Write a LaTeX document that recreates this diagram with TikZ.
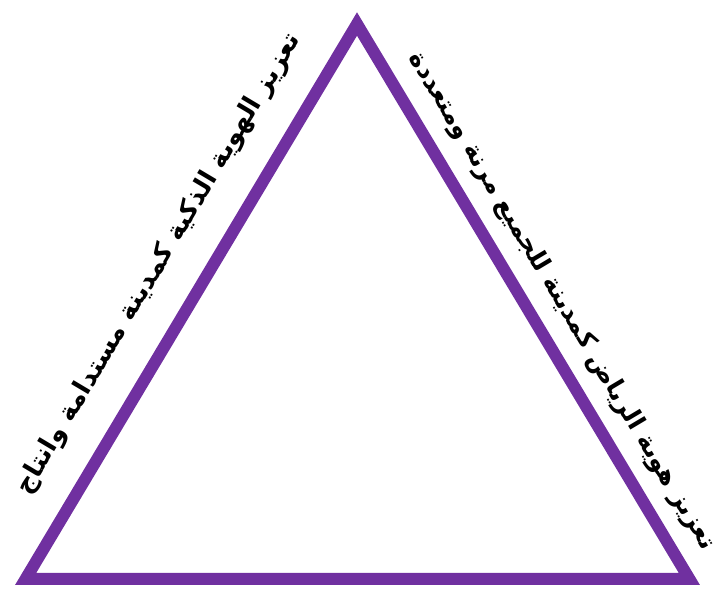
\documentclass[tikz,border=0pt]{standalone}
\usepackage{fontspec}
\usetikzlibrary{calc}
\newfontfamily\arabicfont[Script=Arabic]{DejaVu Sans}
\TeXXeTstate=1
\definecolor{mypurple}{RGB}{112,48,160}

\begin{document}
\begin{tikzpicture}[x=1pt,y=1pt]
  \def\ang{59.19}
  \useasboundingbox (0,0) rectangle (721,594);

  \coordinate (bl) at (25.6,15);
  \coordinate (br) at (689.4,15);
  \coordinate (top) at (357,570);
  \draw[color=mypurple, line width=12pt, line join=miter] (bl) -- (top) -- (br) -- cycle;

  \node[rotate=\ang, font=\arabicfont\bfseries\fontsize{26}{30}\selectfont] (lefttext)
    at ($(bl)!0.525!(top)!47pt!90:(top)$) {\beginR تعزيز الهوية الذكية كمدينة مستدامة وانتاج\endR};
  \node[rotate=-\ang, font=\arabicfont\bfseries\fontsize{25}{30}\selectfont] (righttext)
    at ($(top)!0.53!(br)!33pt!90:(br)$) {\beginR تعزيز هوية الرياض كمدينة للجميع مرنة ومتعددة\endR};
\end{tikzpicture}
\end{document}
